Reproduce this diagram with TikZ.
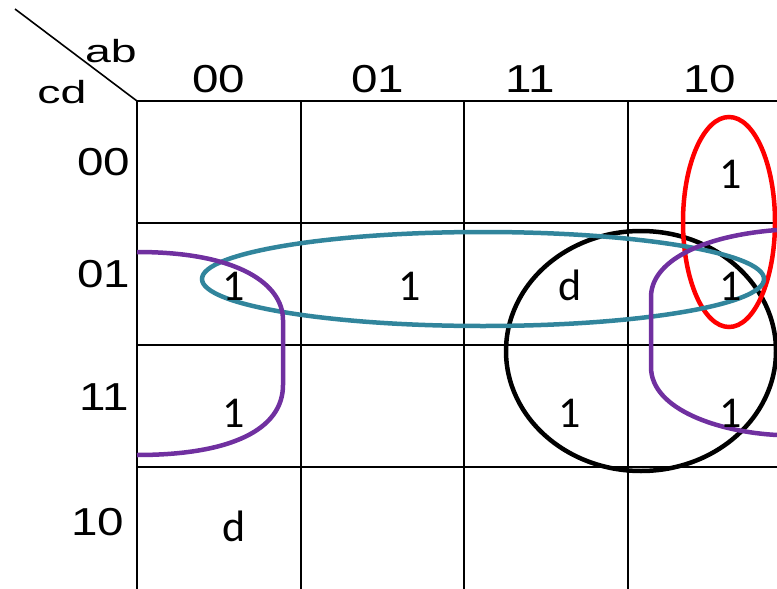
\documentclass[tikz,border=0pt]{standalone}
\usepackage{fontspec}
\setmainfont{Liberation Sans}
\newfontfamily\hdrfont[FakeStretch=1.22]{Liberation Sans}
\newfontfamily\cornerfont[FakeStretch=1.45]{Liberation Sans}
\newfontfamily\cellfont{Carlito}
\definecolor{kteal}{HTML}{31859C}
\definecolor{kpurple}{HTML}{7030A0}

\begin{document}
\begin{tikzpicture}[x=1pt,y=-1pt,
    gridline/.style={line width=1.6pt},
    hdr/.style={font=\hdrfont\fontsize{39}{39}\selectfont, anchor=base, inner sep=0pt},
    corner/.style={font=\cornerfont\fontsize{32}{32}\selectfont, anchor=base, inner sep=0pt},
    cell/.style={font=\cellfont\fontsize{44}{44}\selectfont, anchor=base, inner sep=0pt},
    group/.style={line width=4.5pt}]
  \useasboundingbox (0,0) rectangle (777,589);

  % grid
  \coordinate (tip) at (15,9);
  \coordinate (corner) at (137,101);
  \draw[gridline] (tip) -- (corner);
  \foreach \y in {101,223,345,467}
    \draw[gridline] (137,\y) -- (777,\y);
  \foreach \x in {137,301,464,628}
    \draw[gridline] (\x,101) -- (\x,589);

  % groups
  \begin{scope}
    \clip (0,0) rectangle (777,589);
    \draw[group, black] (641,351) ellipse [x radius=135pt, y radius=120pt];
    \draw[group, red] (729,222) ellipse [x radius=46pt, y radius=105pt];
    \draw[group, kteal] (483,279) ellipse [x radius=281pt, y radius=47pt];
    \draw[group, kpurple] (137,252) .. controls (240,252) and (283,285) .. (283,320)
      -- (283,385) .. controls (283,430) and (230,455) .. (137,455);
    \draw[group, kpurple] (777,230) .. controls (700,236) and (651,262) .. (651,297)
      -- (651,367) .. controls (651,410) and (720,432) .. (777,435);
  \end{scope}

  % labels
  \node[corner] (ab) at (111,62) {ab};
  \node[corner] (cd) at (62,103) {cd};

  \node[hdr] (col00) at (219,92) {00};
  \node[hdr] (col01) at (378,92) {01};
  \node[hdr] (col11) at (530,92) {11};
  \node[hdr] (col10) at (710,92) {10};

  \node[hdr] (row00) at (104,175) {00};
  \node[hdr] (row01) at (104,287) {01};
  \node[hdr] (row11) at (104,410) {11};
  \node[hdr] (row10) at (98,535) {10};

  % cells
  \node[cell] (m8) at (731,188) {1};
  \node[cell] (m1) at (234,300) {1};
  \node[cell] (m5) at (410,300) {1};
  \node[cell] (m13) at (570,300) {d};
  \node[cell] (m9) at (731,300) {1};
  \node[cell] (m3) at (234,427) {1};
  \node[cell] (m15) at (570,427) {1};
  \node[cell] (m11) at (731,427) {1};
  \node[cell] (m2) at (234,541) {d};
\end{tikzpicture}
\end{document}
